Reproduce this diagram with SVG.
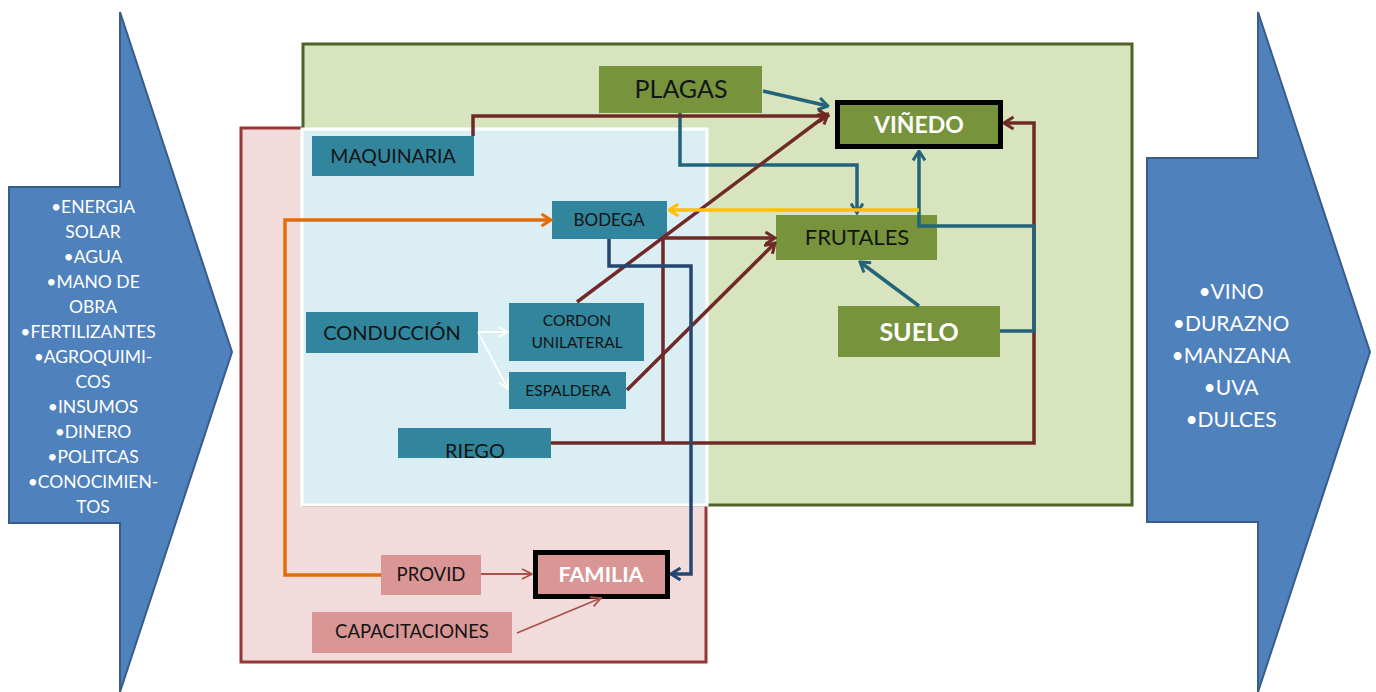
<svg xmlns="http://www.w3.org/2000/svg" width="1376" height="692" viewBox="0 0 1376 692">
<style>
text{font-family:Lato,"Liberation Sans",sans-serif;text-anchor:middle}
.dk{fill:#141414}
.wt{fill:#ffffff;font-weight:bold}
.big{fill:#4f81bd;stroke:#385d8a;stroke-width:2}
.lst{fill:#ffffff;font-size:17.5px}
.lst2{fill:#ffffff;font-size:21px}
.g{fill:#77933c}
.t{fill:#31859c}
.p{fill:#d99694}
.c{fill:none;stroke-width:3.5;stroke-linejoin:miter}
.red{stroke:#6f2a28}
.teal{stroke:#23647a}
.navy{stroke:#254670}
.org{stroke:#e36c0a}
.yel{stroke:#ffc000}
.thin{fill:none;stroke:#a9504c;stroke-width:1.8}
.wl{fill:none;stroke:#ffffff;stroke-width:1.8}
</style>
<defs>
<marker id="mRed" viewBox="0 0 12 14" refX="10.5" refY="7" markerWidth="12" markerHeight="14" markerUnits="userSpaceOnUse" orient="auto"><path d="M1,1 L10.5,7 L1,13" fill="none" stroke="#6f2a28" stroke-width="3"/></marker>
<marker id="mTeal" viewBox="0 0 12 14" refX="10.5" refY="7" markerWidth="12" markerHeight="14" markerUnits="userSpaceOnUse" orient="auto"><path d="M1,1 L10.5,7 L1,13" fill="none" stroke="#23647a" stroke-width="3"/></marker>
<marker id="mNavy" viewBox="0 0 12 14" refX="10.5" refY="7" markerWidth="12" markerHeight="14" markerUnits="userSpaceOnUse" orient="auto"><path d="M1,1 L10.5,7 L1,13" fill="none" stroke="#254670" stroke-width="3"/></marker>
<marker id="mOrg" viewBox="0 0 12 14" refX="10.5" refY="7" markerWidth="12" markerHeight="14" markerUnits="userSpaceOnUse" orient="auto"><path d="M1,1 L10.5,7 L1,13" fill="none" stroke="#e36c0a" stroke-width="3"/></marker>
<marker id="mYel" viewBox="0 0 12 14" refX="10.5" refY="7" markerWidth="12" markerHeight="14" markerUnits="userSpaceOnUse" orient="auto"><path d="M1,1 L10.5,7 L1,13" fill="none" stroke="#ffc000" stroke-width="3"/></marker>
<marker id="mThin" viewBox="0 0 12 12" refX="11" refY="6" markerWidth="12" markerHeight="12" markerUnits="userSpaceOnUse" orient="auto"><path d="M1,1 L11,6 L1,11" fill="none" stroke="#a9504c" stroke-width="1.8"/></marker>
<marker id="mWhite" viewBox="0 0 12 12" refX="11" refY="6" markerWidth="12" markerHeight="12" markerUnits="userSpaceOnUse" orient="auto"><path d="M1,1 L11,6 L1,11" fill="none" stroke="#ffffff" stroke-width="1.8"/></marker>
</defs>
<rect width="1376" height="692" fill="#ffffff"/>

<g id="input-arrow">
<path class="big" d="M9,187 H120 V12 L232,352 L120,692 V523 H9 Z"/>
<text class="lst" x="93" y="213">•ENERGIA</text>
<text class="lst" x="93" y="238">SOLAR</text>
<text class="lst" x="93" y="263">•AGUA</text>
<text class="lst" x="93" y="288">•MANO DE</text>
<text class="lst" x="93" y="313">OBRA</text>
<text class="lst" x="88" y="338">•FERTILIZANTES</text>
<text class="lst" x="93" y="363">•AGROQUIMI-</text>
<text class="lst" x="93" y="388">COS</text>
<text class="lst" x="93" y="413">•INSUMOS</text>
<text class="lst" x="93" y="438">•DINERO</text>
<text class="lst" x="93" y="463">•POLITCAS</text>
<text class="lst" x="93" y="488">•CONOCIMIEN-</text>
<text class="lst" x="93" y="513">TOS</text>
</g>

<g id="output-arrow">
<path class="big" d="M1147,158 H1258 V12 L1370,352 L1258,692 V522 H1147 Z"/>
<text class="lst2" x="1231" y="299">•VINO</text>
<text class="lst2" x="1231" y="331">•DURAZNO</text>
<text class="lst2" x="1231" y="363">•MANZANA</text>
<text class="lst2" x="1231" y="395">•UVA</text>
<text class="lst2" x="1231" y="427">•DULCES</text>
</g>

<g id="areas">
<rect x="241" y="128" width="465" height="534" fill="#f2dcdb" stroke="#953735" stroke-width="3"/>
<rect x="303" y="44" width="829" height="461" fill="#d7e4bd" stroke="#4f6228" stroke-width="3"/>
<rect x="302" y="129" width="405" height="376" fill="#dbeef4" stroke="#ffffff" stroke-width="3"/>
</g>

<g id="plagas"><rect class="g" x="599" y="66" width="163" height="47"/><text class="dk" x="681" y="98" font-size="25">PLAGAS</text></g>
<g id="vinedo"><rect class="g" x="837.5" y="102.5" width="163" height="44" stroke="#000" stroke-width="5"/><text class="wt" x="919" y="133" font-size="23">VIÑEDO</text></g>
<g id="frutales"><rect class="g" x="776" y="215" width="161" height="45"/><text class="dk" x="857" y="245" font-size="22">FRUTALES</text></g>
<g id="suelo"><rect class="g" x="838" y="306" width="162" height="51"/><text class="wt" x="919" y="341" font-size="25">SUELO</text></g>
<g id="maquinaria"><rect class="t" x="312" y="136" width="162" height="40"/><text class="dk" x="393" y="163" font-size="19.5">MAQUINARIA</text></g>
<g id="bodega"><rect class="t" x="552" y="201" width="115" height="38"/><text class="dk" x="609" y="226" font-size="17">BODEGA</text></g>
<g id="conduccion"><rect class="t" x="306" y="312" width="172" height="41"/><text class="dk" x="392" y="340" font-size="20">CONDUCCIÓN</text></g>
<g id="cordon"><rect class="t" x="509" y="303" width="135" height="58"/><text class="dk" x="577" y="326" font-size="15.5">CORDON</text><text class="dk" x="577" y="348" font-size="15.5">UNILATERAL</text></g>
<g id="espaldera"><rect class="t" x="509" y="372" width="117" height="37"/><text class="dk" x="568" y="396" font-size="15.5">ESPALDERA</text></g>
<g id="riego"><rect class="t" x="398" y="428" width="153" height="30"/><text class="dk" x="475" y="458" font-size="20">RIEGO</text></g>
<g id="provid"><rect class="p" x="381" y="555" width="100" height="40"/><text class="dk" x="431" y="581" font-size="18.5">PROVID</text></g>
<g id="familia"><rect class="p" x="535.5" y="552.5" width="132" height="44" stroke="#000" stroke-width="5"/><text class="wt" x="601" y="582" font-size="21.5">FAMILIA</text></g>
<g id="capacitaciones"><rect class="p" x="312" y="612" width="200" height="41"/><text class="dk" x="412" y="638" font-size="18.5">CAPACITACIONES</text></g>

<g id="connectors">
<path class="c teal" d="M763,91 L828,106" marker-end="url(#mTeal)"/>
<path class="c teal" d="M680,113 V165 H857 V213" marker-end="url(#mTeal)"/>
<path class="c red" d="M473,136 V116 H828" marker-end="url(#mRed)"/>
<path class="c red" d="M577,302 L828,114" marker-end="url(#mRed)"/>
<path class="c red" d="M551,443 H1034 V123 H1004" marker-end="url(#mRed)"/>
<path class="c red" d="M663,443 V238 H775" marker-end="url(#mRed)"/>
<path class="c red" d="M627,390 L775,243" marker-end="url(#mRed)"/>
<path class="c teal" d="M919,306 L860,262" marker-end="url(#mTeal)"/>
<path class="c teal" d="M1000,331 H1034 V226 H919 V151" marker-end="url(#mTeal)"/>
<path class="c yel" d="M919,210 H669" marker-end="url(#mYel)"/>
<path class="c navy" d="M609,239 V266 H691 V574 H671" marker-end="url(#mNavy)"/>
<path class="c org" d="M381,575 H285 V220 H551" marker-end="url(#mOrg)"/>
<path class="thin" d="M481,574 H532" marker-end="url(#mThin)"/>
<path class="thin" d="M517,633 L601,598" marker-end="url(#mThin)"/>
<path class="wl" d="M478,332 L508,332" marker-end="url(#mWhite)"/>
<path class="wl" d="M478,332 L508,389" marker-end="url(#mWhite)"/>
</g>
</svg>
